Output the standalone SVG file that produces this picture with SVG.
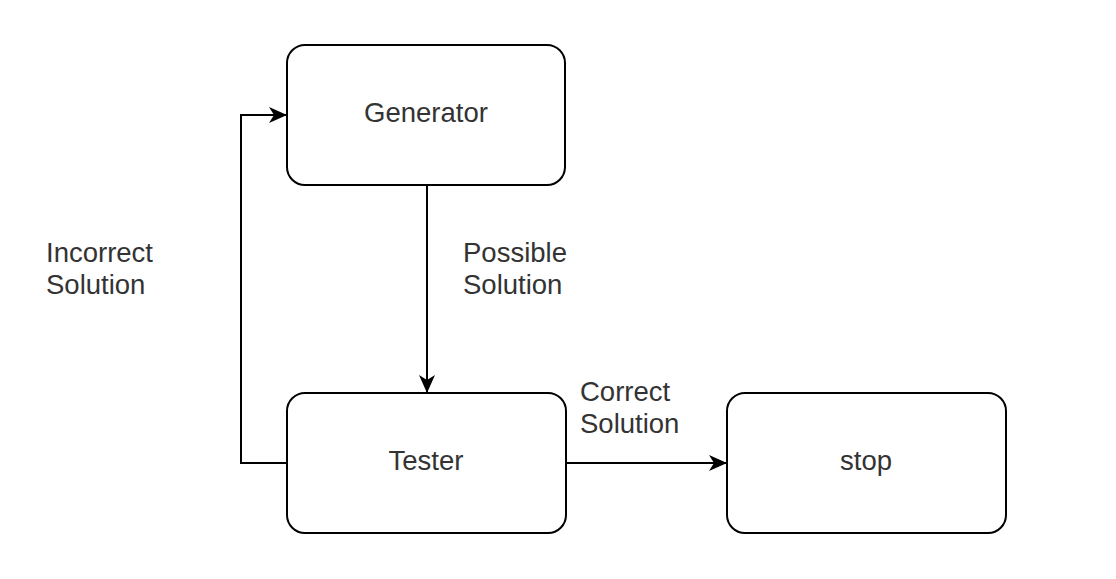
<svg xmlns="http://www.w3.org/2000/svg" width="1116" height="579" viewBox="0 0 1116 579">
<defs>
<style>
.node rect{fill:#fff;stroke:#000;stroke-width:2}
.lbl{font-family:"Liberation Sans",Arial,sans-serif;font-size:27.5px;fill:#333}
.mid{text-anchor:middle}
.edge{fill:none;stroke:#000;stroke-width:2}
</style>
<marker id="arr" viewBox="0 0 18 16" refX="17" refY="8" markerWidth="18" markerHeight="16" markerUnits="userSpaceOnUse" orient="auto">
<path d="M0,0 L18,8 L0,16 L5,8 Z" fill="#000"/>
</marker>
</defs>
<rect width="1116" height="579" fill="#fff"/>
<g id="connectors">
<path class="edge" d="M427,185 V392" marker-end="url(#arr)"/>
<path class="edge" d="M287,463 H241 V115 H286" marker-end="url(#arr)"/>
<path class="edge" d="M566,463 H726" marker-end="url(#arr)"/>
</g>
<g id="generator" class="node">
<rect x="287" y="45" width="278" height="140" rx="18"/>
<text class="lbl mid" x="426" y="122">Generator</text>
</g>
<g id="tester" class="node">
<rect x="287" y="393" width="279" height="140" rx="18"/>
<text class="lbl mid" x="426" y="470">Tester</text>
</g>
<g id="stop" class="node">
<rect x="727" y="393" width="279" height="140" rx="18"/>
<text class="lbl mid" x="866" y="470">stop</text>
</g>
<g id="labels">
<text class="lbl" x="46" y="262">Incorrect</text>
<text class="lbl" x="46" y="294">Solution</text>
<text class="lbl" x="463" y="262">Possible</text>
<text class="lbl" x="463" y="294">Solution</text>
<text class="lbl" x="580" y="401">Correct</text>
<text class="lbl" x="580" y="433">Solution</text>
</g>
</svg>
